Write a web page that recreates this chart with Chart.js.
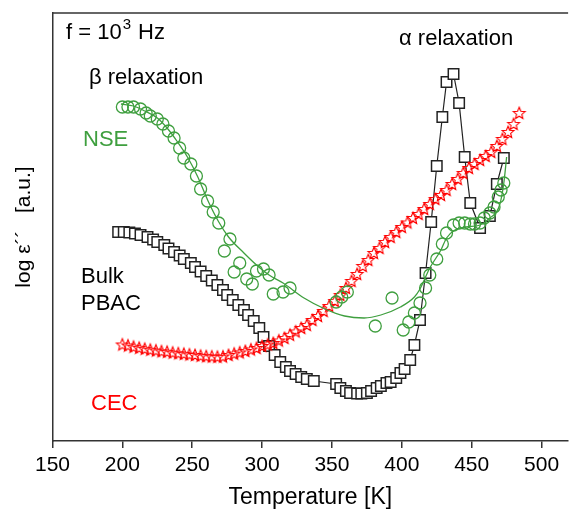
<!DOCTYPE html>
<html>
<head>
<meta charset="utf-8">
<script src="https://cdn.jsdelivr.net/npm/chart.js@4/dist/chart.umd.min.js"></script>
<style>
  html, body { margin: 0; padding: 0; background: #fff; overflow: hidden; }
  canvas { display: block; }
</style>
</head>
<body>
<canvas id="c" width="577" height="517"></canvas>
<script>
const xTicks = [150, 200, 250, 300, 350, 400, 450, 500];

// Bulk PBAC (open squares + line)
const bulkT = [197, 201, 205, 209, 213, 218, 222, 225, 230, 233, 237, 241, 244, 249, 252, 256, 260, 264, 268, 272,
  275, 279, 283, 287, 290, 294, 298, 301, 305, 309, 313, 317, 320, 324, 328, 332, 337, 353, 356, 360,
  363, 368, 371, 375, 378, 382, 385, 389, 392, 396, 399, 402, 406, 409, 413, 417, 421, 425, 429, 432,
  437, 441, 445, 449, 456, 463, 468, 473];
const bulkY = [20.9, 20.9, 20.85, 20.75, 20.6, 20.4, 20.15, 19.9, 19.6, 19.25, 18.9, 18.55, 18.2, 17.8, 17.4, 16.95, 16.5, 16.05, 15.6, 15.1,
  14.6, 14.1, 13.6, 13.1, 12.6, 12.0, 11.3, 10.4, 9.5, 8.6, 7.9, 7.4, 7.0, 6.7, 6.4, 6.2, 6.0, 5.7, 5.3, 5.0,
  4.8, 4.75, 4.75, 4.8, 5.0, 5.3, 5.5, 5.8, 5.9, 6.3, 6.8, 7.2, 8.1, 9.6, 12.1, 16.8, 21.9, 27.5, 32.4, 35.9,
  36.7, 33.8, 28.4, 23.8, 21.3, 22.5, 25.7, 28.3];

// NSE (open circles)
const nseT = [200, 204, 208, 213, 217, 220, 225, 229, 233, 237, 241, 244, 249, 253, 256, 261, 265, 269, 273, 277,
  280, 284, 289, 293, 296, 301, 305, 308, 315, 320, 353, 357, 361, 381, 393, 401, 405, 409, 413, 417,
  420, 425, 429, 432, 437, 441, 445, 449, 452, 456, 459, 463, 466, 469, 471, 473];
const nseY = [33.4, 33.4, 33.4, 33.2, 32.8, 32.5, 32.2, 31.7, 31.0, 30.3, 29.3, 28.3, 27.7, 26.5, 25.2, 24.0, 22.9, 21.8, 19.0, 20.2,
  16.9, 17.8, 16.2, 15.7, 17.0, 17.2, 16.6, 14.7, 14.9, 15.3, 13.9, 14.4, 14.9, 11.5, 14.3, 11.1, 11.9, 12.8, 13.8, 15.3,
  16.6, 18.2, 19.7, 20.8, 21.6, 21.8, 21.8, 21.7, 21.7, 21.8, 22.3, 22.8, 23.4, 24.4, 25.1, 25.8];

// NSE fit curve
const fitT = [199, 208, 216, 225, 232, 239, 247, 254, 261, 269, 276, 287, 296, 305, 315, 330, 345, 359, 373, 385,
  399, 409, 413, 420, 428, 432, 438, 446, 456, 463, 470, 473, 475];
const fitY = [33.7, 33.5, 33.0, 32.3, 31.3, 30.0, 28.3, 26.4, 24.1, 21.9, 20.4, 18.8, 17.6, 16.6, 15.8, 14.3, 13.2, 12.5, 12.3, 12.6,
  13.4, 14.4, 15.2, 17.3, 19.1, 20.3, 21.1, 21.4, 21.6, 22.3, 23.6, 25.8, 28.4];

// CEC (open stars)
const cecT = [200, 204, 208, 212, 216, 220, 224, 228, 232, 236, 240, 244, 248, 252, 256, 260, 264, 268, 272, 276,
  280, 284, 288, 292, 296, 300, 304, 308, 312, 316, 320, 324, 328, 332, 336, 340, 344, 348, 352, 356,
  360, 364, 368, 372, 376, 380, 384, 388, 392, 396, 400, 404, 408, 412, 416, 420, 424, 428, 432, 436,
  440, 444, 448, 452, 456, 460, 464, 468, 472, 476, 480, 484];
const cecY = [9.65, 9.55, 9.43, 9.32, 9.22, 9.13, 9.05, 8.97, 8.92, 8.84, 8.77, 8.72, 8.65, 8.6, 8.53, 8.48, 8.45, 8.42, 8.45, 8.6,
  8.74, 8.86, 9.0, 9.15, 9.3, 9.5, 9.65, 9.8, 10.05, 10.3, 10.62, 10.95, 11.3, 11.6, 12.1, 12.5, 13.0, 13.5, 14.0, 14.6,
  15.3, 16.0, 16.7, 17.5, 18.1, 18.8, 19.3, 19.9, 20.4, 20.9, 21.4, 21.85, 22.3, 22.7, 23.2, 23.7, 24.2, 24.6, 25.1, 25.7,
  26.2, 26.8, 27.3, 27.7, 28.1, 28.5, 28.9, 29.5, 30.2, 30.9, 31.7, 32.8];

const GREEN = '#3f9f3f';
const RED = '#ff0000';
const INK = '#222';
const FONT = '"Liberation Sans", Arial, sans-serif';

const pts = (xs, ys) => xs.map((x, i) => ({ x, y: ys[i] }));

// open five-pointed star used as point marker
function starMarker(r, color) {
  const s = Math.ceil(r * 2 + 3);
  const c = document.createElement('canvas');
  c.width = s; c.height = s;
  const g = c.getContext('2d');
  g.strokeStyle = color;
  g.lineWidth = 1.15;
  g.lineJoin = 'miter';
  g.beginPath();
  for (let i = 0; i < 10; i++) {
    const rad = i % 2 ? r * 0.45 : r;
    const a = -Math.PI / 2 + i * Math.PI / 5;
    const px = s / 2 + rad * Math.cos(a);
    const py = s / 2 + 0.5 + rad * Math.sin(a);
    if (i === 0) g.moveTo(px, py); else g.lineTo(px, py);
  }
  g.closePath();
  g.stroke();
  return c;
}

const frameTop = {
  id: 'frameTop',
  afterDraw(chart) {
    const { ctx, chartArea: a } = chart;
    ctx.save();
    ctx.strokeStyle = '#333';
    ctx.lineWidth = 1.5;
    ctx.beginPath();
    ctx.moveTo(a.left, a.top);
    ctx.lineTo(a.right, a.top);
    ctx.stroke();
    ctx.restore();
  }
};

const notes = {
  id: 'notes',
  afterDraw(chart) {
    const ctx = chart.ctx;
    ctx.save();
    ctx.textBaseline = 'middle';
    ctx.textAlign = 'left';
    const put = (text, x, y, color, size) => {
      ctx.font = `${size}px ${FONT}`;
      ctx.fillStyle = color;
      ctx.fillText(text, x, y);
      return ctx.measureText(text).width;
    };
    // f = 10^3 Hz
    let x = 66;
    x += put('f = 10', x, 33, '#000', 22);
    x += put('3', x + 1, 25, '#000', 15) + 2;
    put(' Hz', x, 33, '#000', 22);

    put('β relaxation', 89, 78, '#000', 22);
    put('α relaxation', 399, 39, '#000', 22);
    put('NSE', 83, 140, GREEN, 22);
    put('Bulk', 81, 277, '#000', 22);
    put('PBAC', 81, 304, '#000', 22);
    put('CEC', 91, 404, RED, 22);
    ctx.restore();
  }
};

new Chart(document.getElementById('c'), {
  type: 'scatter',
  data: {
    datasets: [
      {
        label: 'NSE fit',
        data: pts(fitT, fitY),
        showLine: true,
        borderColor: GREEN,
        borderWidth: 1.3,
        pointRadius: 0,
        cubicInterpolationMode: 'monotone',
        order: 0,
      },
      {
        label: 'NSE',
        data: pts(nseT, nseY),
        pointStyle: 'circle',
        pointRadius: 6,
        pointBorderColor: GREEN,
        pointBackgroundColor: 'rgba(0,0,0,0)',
        pointBorderWidth: 1.3,
        order: 1,
      },
      {
        label: 'CEC',
        data: pts(cecT, cecY),
        pointStyle: starMarker(6.2, RED),
        order: 2,
      },
      {
        label: 'Bulk PBAC',
        data: pts(bulkT, bulkY),
        showLine: true,
        borderColor: INK,
        borderWidth: 1.2,
        tension: 0,
        pointStyle: 'rect',
        pointRadius: 7.4,
        pointBorderColor: INK,
        pointBackgroundColor: '#fff',
        pointBorderWidth: 1.5,
        order: 3,
      },
    ],
  },
  options: {
    responsive: false,
    animation: false,
    events: [],
    layout: { padding: { top: 13, left: 0, right: 0, bottom: 0 } },
    plugins: { legend: { display: false }, tooltip: { enabled: false } },
    scales: {
      x: {
        type: 'linear',
        min: 150,
        max: 519,
        afterBuildTicks: s => { s.ticks = xTicks.map(v => ({ value: v })); },
        afterFit: s => { s.height = 76; },
        ticks: { color: '#000', font: { family: FONT, size: 21 }, padding: 5, maxRotation: 0, autoSkip: false },
        grid: { drawOnChartArea: false, drawTicks: true, tickLength: 7, color: '#333', lineWidth: 1.5 },
        border: { color: '#333', width: 1.5 },
        title: { display: true, text: 'Temperature [K]', color: '#000', font: { family: FONT, size: 23 }, padding: { top: 0, bottom: 6 } },
      },
      y: {
        min: 0,
        max: 42.8,
        afterFit: s => { s.width = 52.5; },
        ticks: { display: false },
        grid: { display: false },
        border: { display: true, color: '#333', width: 1.5 },
        title: { display: true, text: 'log ε´´   [a.u.]', color: '#000', font: { family: FONT, size: 21 }, padding: { top: 12, bottom: 0 } },
      },
    },
  },
  plugins: [frameTop, notes],
});
</script>
</body>
</html>
